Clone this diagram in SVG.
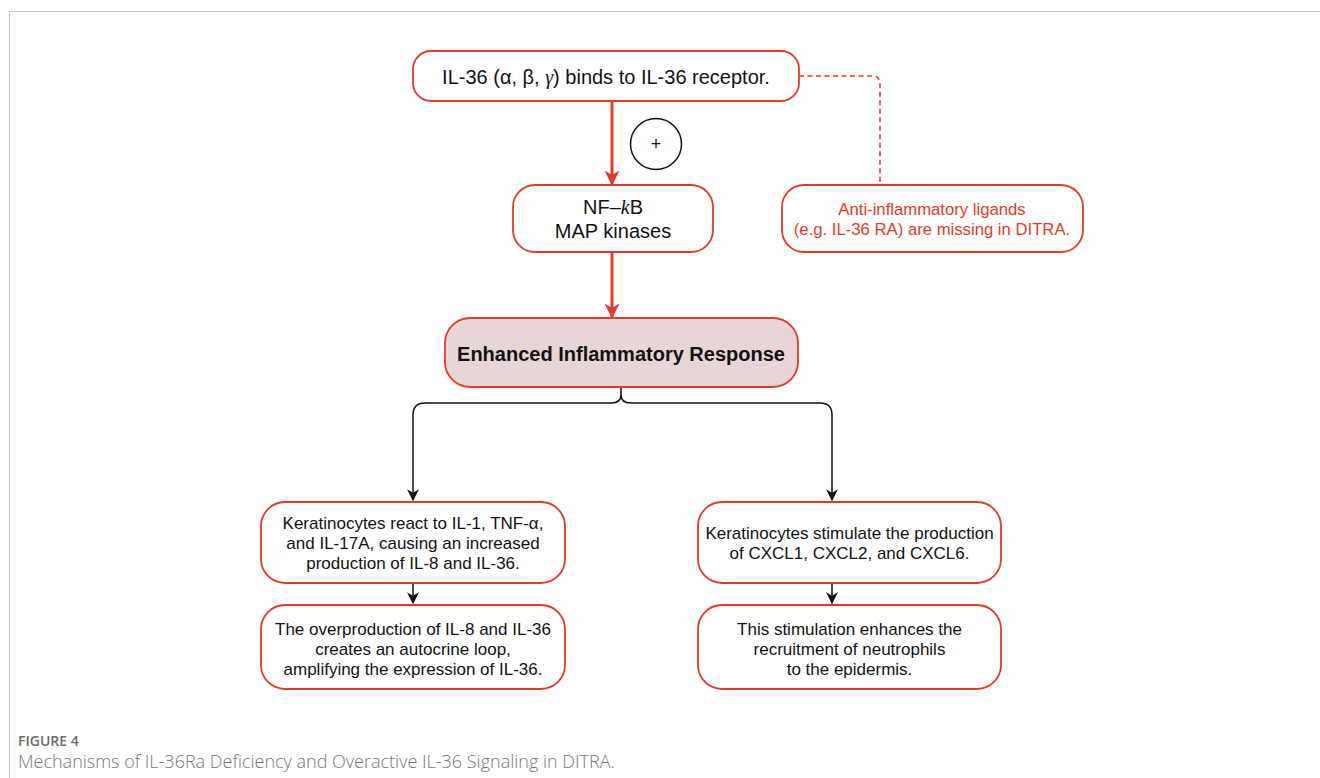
<svg xmlns="http://www.w3.org/2000/svg" width="1320" height="778" viewBox="0 0 1320 778">
<defs>
<style>
.box{fill:#fff;stroke:#e33a2c;stroke-width:1.8}
.hl{fill:#e9d5d5;stroke:#e33a2c;stroke-width:1.8}
.t{font-family:"Liberation Sans",Arial,sans-serif;font-size:20px;fill:#111;text-anchor:middle}
.s{font-family:"Liberation Sans",Arial,sans-serif;font-size:17px;fill:#111;text-anchor:middle}
.rt{font-family:"Liberation Sans",Arial,sans-serif;font-size:16.7px;fill:#e33a2c;text-anchor:middle}
.red{fill:none;stroke:#e33a2c;stroke-width:3}
.blk{fill:none;stroke:#111;stroke-width:1.5}
.cap{font-family:"Open Sans",sans-serif;fill:#777}
</style>
<marker id="ar" viewBox="0 0 10 10" refX="9" refY="5" markerWidth="5" markerHeight="5" orient="auto" markerUnits="strokeWidth"><path d="M0,0 L10,5 L0,10 L3,5 z" fill="#e33a2c"/></marker>
<marker id="ab" viewBox="0 0 10 10" refX="9" refY="5" markerWidth="8" markerHeight="8" orient="auto" markerUnits="strokeWidth"><path d="M0,0 L10,5 L0,10 L3,5 z" fill="#111"/></marker>
</defs>
<rect width="1320" height="778" fill="#fff"/>
<path d="M9.5,778 V11.5 H1320" fill="none" stroke="#c8c8c8" stroke-width="1.2"/>

<g id="connectors">
<path class="red" d="M612,101 V184" marker-end="url(#ar)"/>
<path class="red" d="M612,252 V317" marker-end="url(#ar)"/>
<path d="M799,76 H872 Q880,76 880,84 V185" fill="none" stroke="#e33a2c" stroke-width="1.6" stroke-dasharray="5,3.5"/>
<path class="blk" d="M621,387 V395 Q621,403 611,403 H425 Q413,403 413,415 V500" marker-end="url(#ab)"/>
<path class="blk" d="M621,395 Q621,403 631,403 H820 Q832,403 832,415 V500" marker-end="url(#ab)"/>
<path class="blk" d="M413,583 V603" marker-end="url(#ab)"/>
<path class="blk" d="M832,583 V603" marker-end="url(#ab)"/>
</g>

<g id="plus">
<circle cx="656" cy="144" r="25.5" fill="#fff" stroke="#111" stroke-width="1.5"/>
<text class="s" x="656" y="150" style="font-size:18px">+</text>
</g>

<g id="n1">
<rect class="box" x="413" y="51" width="386" height="50" rx="18"/>
<text class="t" x="606" y="84">IL-36 (α, β, <tspan font-family="Liberation Serif" font-style="italic">γ</tspan>) binds to IL-36 receptor.</text>
</g>

<g id="n2">
<rect class="box" x="513" y="185" width="200" height="67" rx="22"/>
<text class="t" x="613" y="214">NF–<tspan font-family="Liberation Serif" font-style="italic">k</tspan>B</text>
<text class="t" x="613" y="238">MAP kinases</text>
</g>

<g id="n3">
<rect class="box" x="782" y="185" width="301" height="67" rx="22"/>
<text class="rt" x="932" y="215">Anti-inflammatory ligands</text>
<text class="rt" x="932" y="235">(e.g. IL-36 RA) are missing in DITRA.</text>
</g>

<g id="n4">
<rect class="hl" x="445" y="318" width="353" height="69" rx="25"/>
<text class="t" x="621" y="361" style="font-weight:bold">Enhanced Inflammatory Response</text>
</g>

<g id="n5">
<rect class="box" x="261" y="502" width="304" height="81" rx="24"/>
<text class="s" x="413" y="529">Keratinocytes react to IL-1, TNF-α,</text>
<text class="s" x="413" y="549">and IL-17A, causing an increased</text>
<text class="s" x="413" y="569">production of IL-8 and IL-36.</text>
</g>

<g id="n6">
<rect class="box" x="698" y="502" width="303" height="81" rx="24"/>
<text class="s" x="849.5" y="539">Keratinocytes stimulate the production</text>
<text class="s" x="849.5" y="559">of CXCL1, CXCL2, and CXCL6.</text>
</g>

<g id="n7">
<rect class="box" x="261" y="605" width="304" height="84" rx="24"/>
<text class="s" x="413" y="635">The overproduction of IL-8 and IL-36</text>
<text class="s" x="413" y="655">creates an autocrine loop,</text>
<text class="s" x="413" y="675">amplifying the expression of IL-36.</text>
</g>

<g id="n8">
<rect class="box" x="698" y="605" width="303" height="84" rx="24"/>
<text class="s" x="849.5" y="635">This stimulation enhances the</text>
<text class="s" x="849.5" y="655">recruitment of neutrophils</text>
<text class="s" x="849.5" y="675">to the epidermis.</text>
</g>

<g id="caption">
<text class="cap" x="18" y="746" style="font-size:14px;font-weight:600;fill:#6a6a6a">FIGURE 4</text>
<text class="cap" x="18" y="768" style="font-size:18px;font-weight:300">Mechanisms of IL-36Ra Deficiency and Overactive IL-36 Signaling in DITRA.</text>
</g>
</svg>
